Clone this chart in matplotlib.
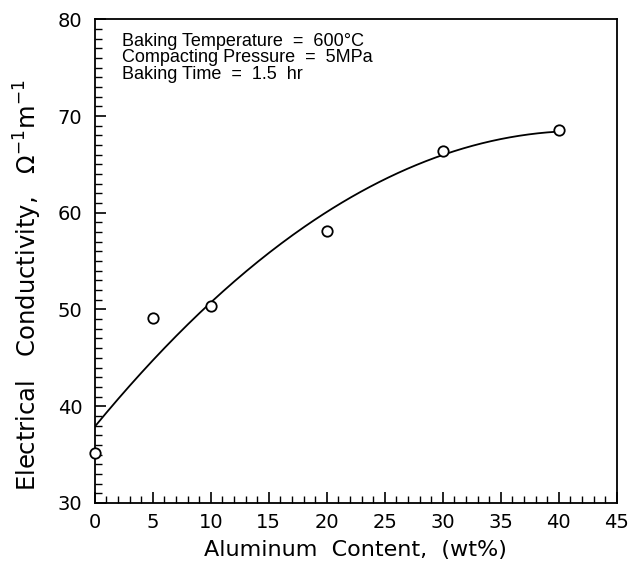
import numpy as np
import matplotlib
matplotlib.use('Agg')
import matplotlib.pyplot as plt
from matplotlib.ticker import MultipleLocator

plt.rcParams['font.family'] = ['DejaVu Sans']

# measured data (Al content wt%, conductivity)
al_content = [0, 5, 10, 20, 30, 40]
conductivity = [35.2, 49.1, 50.4, 58.1, 66.4, 68.6]
x_ticks = [0, 5, 10, 15, 20, 25, 30, 35, 40, 45]
y_ticks = [30, 40, 50, 60, 70, 80]
notes = ['Baking Temperature  =  600°C',
         'Compacting Pressure  =  5MPa',
         'Baking Time  =  1.5  hr']

fig = plt.figure(figsize=(6.32, 5.67), dpi=100)
ax = fig.add_axes([0.150, 0.113, 0.826, 0.853])

# quadratic fit through the data
coef = np.polyfit(al_content, conductivity, 2)
xf = np.linspace(0, 40, 200)
ax.plot(xf, np.polyval(coef, xf), color='black', lw=1.3)
ax.plot(al_content, conductivity, 'o', mfc='white', mec='black', ms=7.5, mew=1.3,
        clip_on=False, zorder=3)

ax.set_xlim(0, 45)
ax.set_ylim(30, 80)
ax.set_xticks(x_ticks)
ax.set_yticks(y_ticks)
ax.xaxis.set_minor_locator(MultipleLocator(1))
ax.yaxis.set_minor_locator(MultipleLocator(1))
ax.tick_params(which='both', direction='in', top=False, right=False, labelsize=14)
ax.tick_params(which='major', length=8, width=1.2)
ax.tick_params(which='minor', length=5, width=1.0)
ax.tick_params(axis='x', pad=7)
ax.tick_params(axis='y', pad=9)
for s in ax.spines.values():
    s.set_linewidth(1.3)

ax.set_xlabel('Aluminum  Content,  (wt%)', fontsize=16, labelpad=6)
ax.set_ylabel('Electrical   Conductivity,   $\\Omega^{-1}$m$^{-1}$', fontsize=17.5)
ax.yaxis.set_label_coords(-0.098, 0.45)

ax.text(0.052, 0.972, '\n'.join(notes), transform=ax.transAxes, fontsize=13,
        family=['Liberation Sans'], va='top', ha='left', linespacing=0.95)

fig.savefig('out.png', dpi=100)
